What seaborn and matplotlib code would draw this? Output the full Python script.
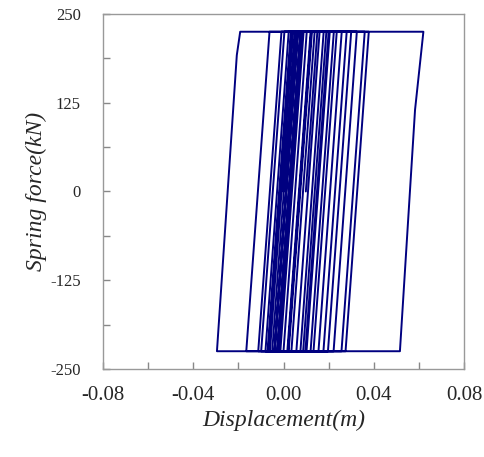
import pandas as pd
import matplotlib
matplotlib.use("Agg")
import matplotlib.pyplot as plt
import seaborn as sns
from matplotlib.ticker import MultipleLocator

# hysteresis path vertices (m, kN)
disp = [0.0, 0.0052, 0.012, 0.0017, -0.008, 0.0023, 0.020, 0.0097, -0.004,
        0.0063, 0.062, 0.0583, 0.0516, -0.0295, -0.0207, -0.0192, 0.0378,
        0.0275, -0.0165, -0.0062, 0.036, 0.0257, -0.0112, -0.0009, 0.0325,
        0.0222, -0.0099, 0.0004, 0.028, 0.0177, -0.0068, 0.0035, 0.0258,
        0.0155, -0.006, 0.0043, 0.0236, 0.0133, -0.005, 0.0053, 0.0223,
        0.012, -0.004, 0.0063, 0.0205, 0.0102, -0.0025, 0.0078, 0.0178,
        0.0075, -0.0014, 0.0089, 0.016, 0.0057, 0.0, 0.0103, 0.0138,
        0.0035, 0.002, 0.0123, 0.0126, 0.0023, -0.003, 0.0073, 0.019,
        0.0087, -0.007, 0.0033, 0.030, 0.0197, -0.002, 0.0083, 0.015, 0.0099]
force = [0, 225, 225, -225, -225, 225, 225, -225, -225,
         225, 225, 115, -225, -225, 192, 225, 225,
         -225, -225, 225, 225, -225, -225, 225, 225,
         -225, -225, 225, 225, -225, -225, 225, 225,
         -225, -225, 225, 225, -225, -225, 225, 225,
         -225, -225, 225, 225, -225, -225, 225, 225,
         -225, -225, 225, 225, -225, -225, 225, 225,
         -225, -225, 225, 225, -225, -225, 225, 225,
         -225, -225, 225, 225, -225, -225, 225, 225, 0]

x_ticks = [-0.08, -0.04, 0.00, 0.04, 0.08]
x_labels = ["-0.08", "-0.04", "0.00", "0.04", "0.08"]
y_ticks = [-250, -125, 0, 125, 250]
y_labels = ["-250", "-125", "0", "125", "250"]

df = pd.DataFrame({"disp": disp, "force": force})

sns.set_style("white")
plt.rcParams["font.family"] = ["Liberation Serif", "DejaVu Serif"]
plt.rcParams["axes.unicode_minus"] = False

fig = plt.figure(figsize=(4.85, 4.57), dpi=100)
ax = fig.add_axes([0.2124, 0.1926, 0.7443, 0.7768])

sns.lineplot(data=df, x="disp", y="force", sort=False, estimator=None,
             color="#000080", linewidth=1.4, ax=ax)

ax.set_xlim(-0.08, 0.08)
ax.set_ylim(-250, 250)
ax.set_xticks(x_ticks)
ax.set_xticklabels(x_labels, fontsize=15)
ax.set_yticks(y_ticks)
ax.set_yticklabels(y_labels, fontsize=12)
ax.xaxis.set_minor_locator(MultipleLocator(0.02))
ax.yaxis.set_minor_locator(MultipleLocator(62.5))

ax.tick_params(which="both", direction="in", length=5, width=1, color="#888888",
               top=False, right=False, bottom=True, left=True)
ax.tick_params(axis="x", pad=12)
ax.tick_params(axis="y", pad=16)
for s in ax.spines.values():
    s.set_color("#999999")
    s.set_linewidth(1)

ax.set_xlabel("Displacement(m)", fontsize=17, style="italic", labelpad=4)
ax.set_ylabel("Spring force(kN)", fontsize=17, style="italic", labelpad=2)

fig.savefig("out.png", dpi=100)
